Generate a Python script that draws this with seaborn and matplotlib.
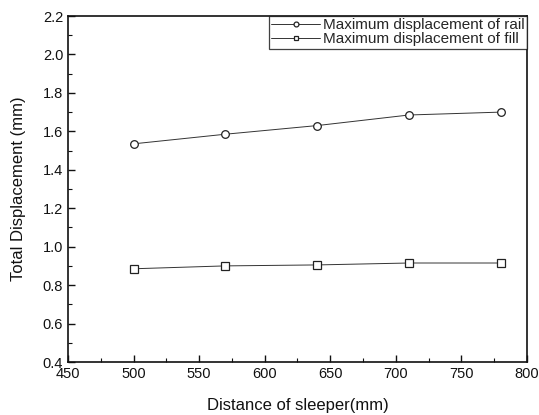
import matplotlib
matplotlib.use("Agg")
import matplotlib.pyplot as plt
from matplotlib.ticker import MultipleLocator, FormatStrFormatter
import seaborn as sns
import pandas as pd

distance = [500, 570, 640, 710, 780]
rail_disp = [1.535, 1.585, 1.630, 1.685, 1.700]
fill_disp = [0.885, 0.900, 0.905, 0.915, 0.915]
series_names = ["Maximum displacement of rail", "Maximum displacement of fill"]

df = pd.DataFrame({
    "distance": distance * 2,
    "disp": rail_disp + fill_disp,
    "series": [series_names[0]] * len(distance) + [series_names[1]] * len(distance),
})

sns.set_theme(style="white")
plt.rcParams["font.family"] = ["Liberation Sans", "DejaVu Sans"]

fig = plt.figure(figsize=(5.39, 4.15), dpi=100)
ax = fig.add_axes([68 / 539, 1 - 362 / 415, (527 - 68) / 539, (362 - 16) / 415])

sns.lineplot(
    data=df, x="distance", y="disp", hue="series", style="series",
    markers={series_names[0]: "o", series_names[1]: "s"},
    dashes=False, palette=["#333333", "#333333"],
    markersize=5.5, markerfacecolor="white", markeredgecolor="#222222",
    markeredgewidth=0.9, linewidth=0.7, ax=ax,
)

ax.set_xlim(450, 800)
ax.set_ylim(0.4, 2.2)
ax.xaxis.set_major_locator(MultipleLocator(50))
ax.xaxis.set_minor_locator(MultipleLocator(25))
ax.yaxis.set_major_locator(MultipleLocator(0.2))
ax.yaxis.set_minor_locator(MultipleLocator(0.1))
ax.yaxis.set_major_formatter(FormatStrFormatter("%.1f"))
ax.tick_params(which="both", direction="in", left=True, bottom=True,
               top=False, right=False, colors="#111111", labelsize=10.5)
ax.tick_params(which="major", length=5, width=1)
ax.tick_params(which="minor", length=3, width=0.8)
for sp in ax.spines.values():
    sp.set_color("#111111")
    sp.set_linewidth(1.2)

ax.set_xlabel("Distance of sleeper(mm)", fontsize=12, color="#111111", labelpad=12)
ax.set_ylabel("Total Displacement (mm)", fontsize=12, color="#111111", labelpad=12)

leg = ax.legend(loc="upper right", frameon=True, fontsize=11, handlelength=3.2,
                borderpad=0.15, labelspacing=0.0, handletextpad=0.2,
                borderaxespad=0.0, fancybox=False)
leg.get_frame().set_edgecolor("#111111")
leg.get_frame().set_linewidth(0.9)
for h in leg.legend_handles:
    h.set_markersize(3.5)

fig.savefig("out.png", dpi=100)
